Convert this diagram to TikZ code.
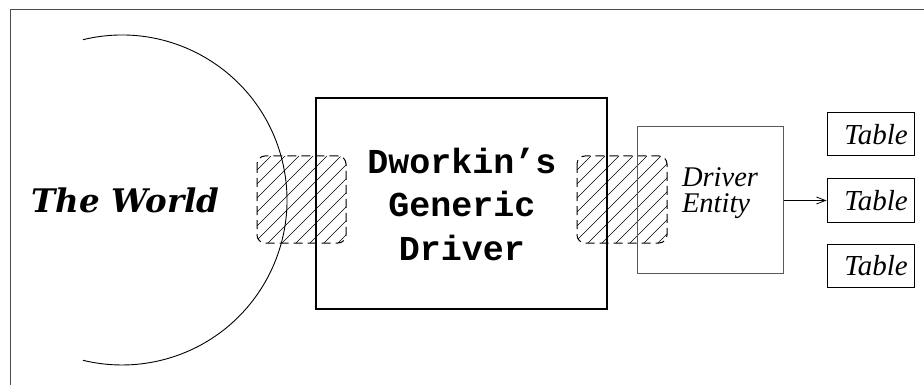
\documentclass[tikz,border=0pt]{standalone}
\usepackage{fontspec}
\setmainfont{Liberation Serif}
\newfontfamily\codefont{Liberation Mono}
\newfontfamily\worldfont{DejaVu Serif}
\usetikzlibrary{arrows.meta}
% a dashed, rounded, hatched pad: x1 y1 x2 y2
\newcommand\hatchedpad[4]{%
  \begin{scope}
    \clip[rounded corners=8] (#1,#2) rectangle (#3,#4);
    \foreach \k in {0,...,13}
      \draw[hatchline] ({#1+14*\k+#2-#4},#4) -- ({#1+14*\k},#2);
  \end{scope}
  \draw[padedge] (#1,#2) rectangle (#3,#4);
}
\begin{document}
\begin{tikzpicture}[x=1pt,y=-1pt,
  framegray/.style={draw=black!70, line width=1pt},
  hatchline/.style={line width=0.6pt},
  padedge/.style={line width=1pt, dash pattern=on 9pt off 5pt, rounded corners=8},
  mainbox/.style={draw, line width=1.2pt, minimum width=291pt, minimum height=211pt, inner sep=0pt},
  entitybox/.style={draw=black!65, line width=1pt, minimum width=146pt, minimum height=146pt, inner sep=0pt},
  tablebox/.style={draw, line width=1pt, minimum width=87pt, minimum height=43pt, inner sep=0pt,
    font=\fontsize{29}{30}\selectfont\itshape},
  link/.style={line width=0.8pt, -{Straight Barb[length=9pt,width=7pt]}}
]
\useasboundingbox (0,0) rectangle (924,385);
\fill[white] (0,0) rectangle (924,385);

% outer frame (top and left edges)
\draw[framegray] (924,10) -- (10,10) -- (10,385);

% the world as a big arc
\draw[line width=0.9pt] (122,200) ++(-103.7:165) arc[start angle=-103.7, end angle=103.7, radius=165];
\node[font=\worldfont\fontsize{32.5}{38}\selectfont\bfseries\itshape, inner sep=0pt, anchor=base] (world) at (125.5,212) {The World};

% generic driver
\node[mainbox] (gdrv) at (461.5,203.5) {};
\node[font=\codefont\bfseries\fontsize{35}{43.5}\selectfont, align=center, inner sep=0pt] (gdrvtext) at (462,204) {Dworkin’s\\Generic\\Driver};

% interface pads
\hatchedpad{257}{156}{346}{243}
\hatchedpad{577}{156}{667}{243}

% driver entity
\node[entitybox] (entity) at (710,200) {};
\node[font=\fontsize{28.5}{25.5}\selectfont\itshape, align=left, inner sep=0pt] (entitytext) at (720,193) {Driver\\Entity};

% tables
\node[tablebox] (t1) at (870.5,134.5) {\hspace*{11pt}Table};
\node[tablebox] (t2) at (870.5,200.5) {\hspace*{11pt}Table};
\node[tablebox] (t3) at (870.5,265.5) {\hspace*{11pt}Table};

\draw[link] (entity.east |- t2.west) -- (t2.west);
\end{tikzpicture}
\end{document}
